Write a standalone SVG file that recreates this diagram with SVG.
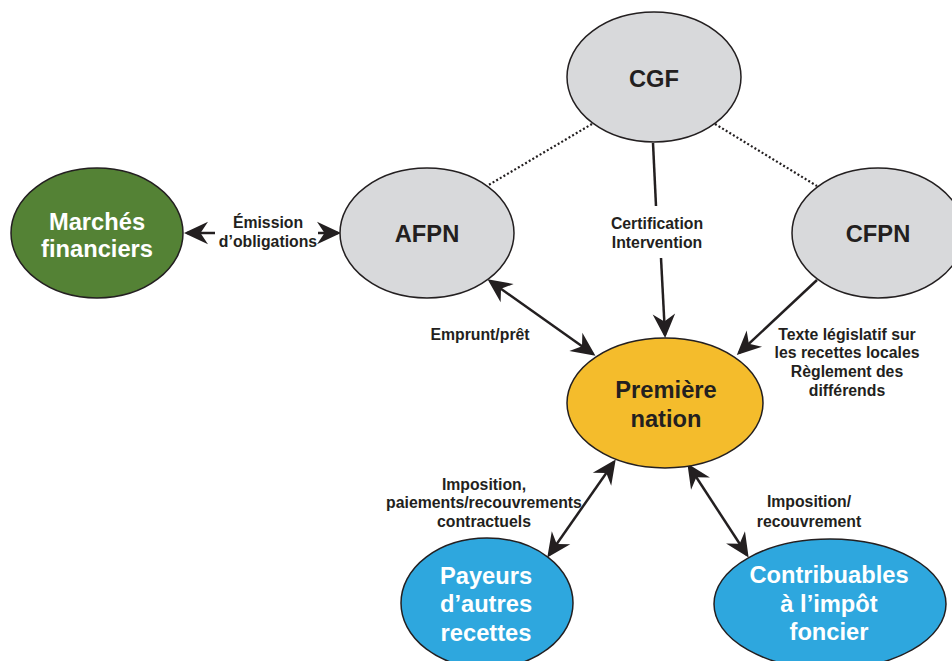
<svg xmlns="http://www.w3.org/2000/svg" width="952" height="661" viewBox="0 0 952 661">
<defs>
<style>
.node{stroke:#231f20;stroke-width:1.5}
.gray{fill:#d8d9db}
.green{fill:#548235}
.yellow{fill:#f4bc2c}
.blue{fill:#2ea7de}
.nl{font-family:"Liberation Sans",Arial,sans-serif;font-weight:bold;font-size:23.7px;text-anchor:middle;fill:#231f20}
.wl{fill:#ffffff}
.el{font-family:"Liberation Sans",Arial,sans-serif;font-weight:bold;font-size:15.8px;text-anchor:middle;fill:#231f20}
.edge{stroke:#231f20;stroke-width:2.5;fill:none}
.dot{stroke:#231f20;stroke-width:2.2;fill:none;stroke-dasharray:2 2.2}
</style>
<marker id="ah" markerUnits="userSpaceOnUse" markerWidth="30" markerHeight="30" refX="0" refY="0" viewBox="-16 -9 20 18" orient="auto-start-reverse" overflow="visible">
<path d="M2,0 L-14,-7.5 L-9,0 L-14,7.5 Z" fill="#231f20"/>
</marker>
</defs>
<rect width="952" height="661" fill="#ffffff"/>

<g id="connectors">
<line class="edge" x1="215" y1="233" x2="187" y2="233" marker-end="url(#ah)"/>
<line class="edge" x1="318" y1="233" x2="338" y2="233" marker-end="url(#ah)"/>
<line class="edge" x1="490" y1="281" x2="593" y2="354" marker-start="url(#ah)" marker-end="url(#ah)"/>
<line class="edge" x1="653" y1="143" x2="656" y2="206"/>
<line class="edge" x1="661" y1="258" x2="665" y2="335" marker-end="url(#ah)"/>
<line class="edge" x1="817" y1="280" x2="739" y2="353" marker-end="url(#ah)"/>
<line class="dot" x1="592" y1="124" x2="487" y2="186"/>
<line class="dot" x1="715" y1="124" x2="817" y2="186"/>
<line class="edge" x1="614" y1="462" x2="549" y2="555" marker-start="url(#ah)" marker-end="url(#ah)"/>
<line class="edge" x1="689" y1="466" x2="747" y2="555" marker-start="url(#ah)" marker-end="url(#ah)"/>
<text class="el" x="268" y="228">Émission</text>
<text class="el" x="268" y="247">d’obligations</text>
<text class="el" x="480" y="340">Emprunt/prêt</text>
<text class="el" x="657" y="229">Certification</text>
<text class="el" x="657" y="248">Intervention</text>
<text class="el" x="847" y="340">Texte législatif sur</text>
<text class="el" x="847" y="358">les recettes locales</text>
<text class="el" x="847" y="377">Règlement des</text>
<text class="el" x="847" y="396">différends</text>
<text class="el" x="484" y="490">Imposition,</text>
<text class="el" x="484" y="508">paiements/recouvrements</text>
<text class="el" x="484" y="527">contractuels</text>
<text class="el" x="809" y="507">Imposition/</text>
<text class="el" x="809" y="527">recouvrement</text>
</g>

<g id="node-cgf">
<ellipse class="node gray" cx="654" cy="77" rx="87" ry="65"/>
<text class="nl" x="654" y="87">CGF</text>
</g>
<g id="node-afpn">
<ellipse class="node gray" cx="427" cy="233" rx="87" ry="65"/>
<text class="nl" x="427" y="242">AFPN</text>
</g>
<g id="node-cfpn">
<ellipse class="node gray" cx="878" cy="233" rx="86" ry="65"/>
<text class="nl" x="878" y="242">CFPN</text>
</g>
<g id="node-marches">
<ellipse class="node green" cx="97" cy="233" rx="86" ry="65"/>
<text class="nl wl" x="97" y="230">Marchés</text>
<text class="nl wl" x="97" y="257">financiers</text>
</g>
<g id="node-premiere-nation">
<ellipse class="node yellow" cx="665" cy="403" rx="98" ry="65"/>
<text class="nl" x="666" y="398">Première</text>
<text class="nl" x="666" y="427">nation</text>
</g>
<g id="node-payeurs">
<ellipse class="node blue" cx="487" cy="603" rx="86" ry="65"/>
<text class="nl wl" x="486" y="584">Payeurs</text>
<text class="nl wl" x="486" y="612">d’autres</text>
<text class="nl wl" x="486" y="641">recettes</text>
</g>
<g id="node-contribuables">
<ellipse class="node blue" cx="830" cy="604" rx="116" ry="65"/>
<text class="nl wl" x="829" y="583">Contribuables</text>
<text class="nl wl" x="829" y="612">à l’impôt</text>
<text class="nl wl" x="829" y="640">foncier</text>
</g>
</svg>
